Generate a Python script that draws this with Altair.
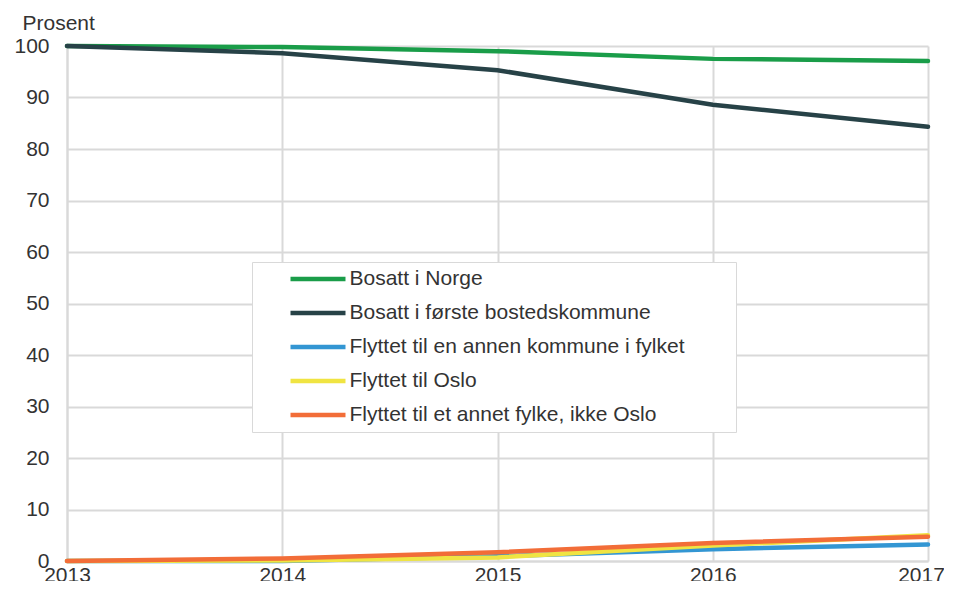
import altair as alt
import pandas as pd

years = [2013, 2014, 2015, 2016, 2017]
series_names = [
    "Bosatt i Norge",
    "Bosatt i første bostedskommune",
    "Flyttet til en annen kommune i fylket",
    "Flyttet til Oslo",
    "Flyttet til et annet fylke, ikke Oslo",
]
bosatt_norge = [100, 99.8, 99.0, 97.5, 97.1]
bosatt_forste = [100, 98.6, 95.3, 88.6, 84.3]
flyttet_fylket = [0, 0.0, 0.9, 2.3, 3.2]
flyttet_oslo = [0, 0.1, 0.7, 3.0, 5.0]
flyttet_annet = [0, 0.5, 1.7, 3.5, 4.7]
colors = ["#1a9d49", "#274247", "#3396d3", "#f0e442", "#f26d38"]

values = [bosatt_norge, bosatt_forste, flyttet_fylket, flyttet_oslo, flyttet_annet]
rows = []
for name, vals in zip(series_names, values):
    for y, v in zip(years, vals):
        rows.append({"year": y, "serie": name, "value": v})
df = pd.DataFrame(rows)

font = "Liberation Sans"
fs = 21

chart = alt.Chart(df).mark_line(strokeWidth=4.5, strokeCap="round").encode(
    x=alt.X("year:Q",
            scale=alt.Scale(domain=[2013, 2017], nice=False, zero=False),
            axis=alt.Axis(values=years, format="d", title=None, grid=True,
                          labelFontSize=fs, labelPadding=3, tickSize=0,
                          labelFlush=False,
                          labelOffset={"condition": {"test": "datum.value == 2017", "value": -7},
                                       "value": 0})),
    y=alt.Y("value:Q",
            scale=alt.Scale(domain=[0, 100], nice=False),
            axis=alt.Axis(values=list(range(0, 101, 10)), title="Prosent",
                          titleAngle=0, titleAlign="left", titleBaseline="alphabetic",
                          titleX=-45, titleY=-17, titleFontSize=fs,
                          titleFontWeight="normal", titleColor="#333333",
                          labelFontSize=fs, labelPadding=18, tickSize=0)),
    color=alt.Color("serie:N", sort=series_names,
                    scale=alt.Scale(domain=series_names, range=colors),
                    legend=alt.Legend(title=None, orient="none", legendX=185, legendY=216,
                                      symbolType="M-4,0L4,0", symbolSize=189,
                                      symbolStrokeWidth=4.5, symbolOffset=49,
                                      labelOffset=21, labelFontSize=fs, labelFont=font,
                                      labelColor="#333333", rowPadding=12, padding=6.5,
                                      fillColor="white", strokeColor="#d9d9d9",
                                      labelLimit=700,
                                      labelExpr="datum.label + '\u2800\u2800\u2800'")),
    order=alt.Order("serie:N"),
).properties(
    width=861, height=515,
    autosize=alt.AutoSizeParams(type="none"),
    padding={"left": 59, "top": 38, "right": 16, "bottom": 20},
).configure_axis(
    labelFont=font, titleFont=font, labelColor="#333333",
    gridColor="#d9d9d9", gridWidth=2, domainColor="#d9d9d9", domainWidth=2,
).configure_view(stroke=None)

chart.save("out.html", embed_options={"renderer": "svg", "actions": False})
